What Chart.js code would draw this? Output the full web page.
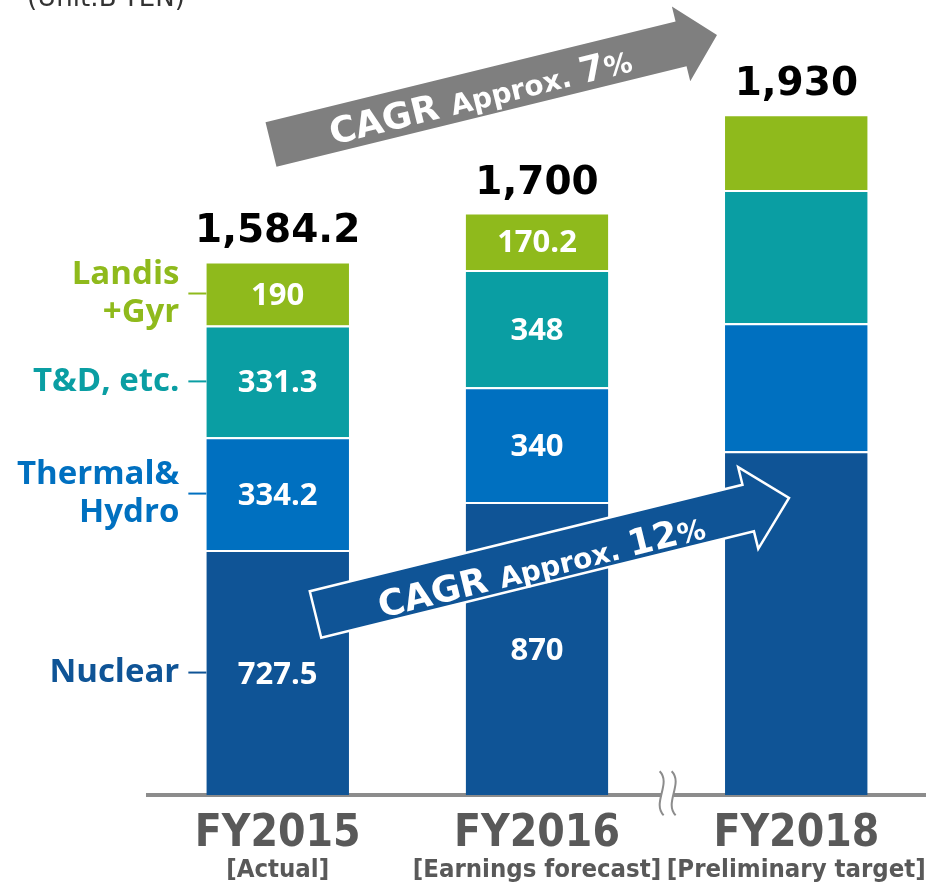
<!DOCTYPE html>
<html>
<head>
<meta charset="utf-8">
<script src="https://cdn.jsdelivr.net/npm/chart.js@4/dist/chart.umd.min.js"></script>
<style>
  html, body { margin: 0; padding: 0; background: #fff; }
</style>
</head>
<body>
<canvas id="grafico" width="926" height="884"></canvas>
<script>
// datos (B-YEN)
const categories = ['FY2015', 'FY2016', 'FY2018'];
const subLabels = ['[Actual]', '[Earnings forecast]', '[Preliminary target]'];
const nuclear = [727.5, 870, 1020];
const thermalHydro = [334.2, 340, 380];
const tdEtc = [331.3, 348, 395];
const landisGyr = [190, 170.2, 225];
const totals = [1584.2, 1700, 1930];
const showValues = [true, true, false];

const seriesNames = [['Nuclear'], ['Thermal&', 'Hydro'], ['T&D, etc.'], ['Landis', '+Gyr']];
const seriesColors = ['#0F5496', '#0070C0', '#0A9EA3', '#8FBA1C'];

function fmt(v) {
    return v.toLocaleString('en-US', { maximumFractionDigits: 1 });
}

// flechas CAGR (decoración, en pixeles)
function drawArrow(ctx, x0, y0, x1, y1, half, headHalf, headLen, fill, stroke) {
    const ang = Math.atan2(y1 - y0, x1 - x0);
    const len = Math.hypot(x1 - x0, y1 - y0);
    ctx.save();
    ctx.translate(x0, y0);
    ctx.rotate(ang);
    ctx.beginPath();
    ctx.moveTo(0, -half);
    ctx.lineTo(len - headLen, -half);
    ctx.lineTo(len - headLen, -headHalf);
    ctx.lineTo(len, 0);
    ctx.lineTo(len - headLen, headHalf);
    ctx.lineTo(len - headLen, half);
    ctx.lineTo(0, half);
    ctx.closePath();
    ctx.fillStyle = fill;
    ctx.fill();
    if (stroke) {
        ctx.strokeStyle = stroke;
        ctx.lineWidth = 2.5;
        ctx.stroke();
    }
    ctx.restore();
    return { ang, len };
}

function drawArrowText(ctx, x0, y0, ang, along, off, pieces) {
    ctx.save();
    ctx.translate(x0, y0);
    ctx.rotate(ang);
    let total = 0;
    pieces.forEach(p => {
        ctx.font = 'bold ' + p[1] + 'px "DejaVu Sans"';
        total += ctx.measureText(p[0]).width;
    });
    let cx = along - total / 2;
    ctx.fillStyle = '#fff';
    ctx.textAlign = 'left';
    ctx.textBaseline = 'alphabetic';
    pieces.forEach(p => {
        ctx.font = 'bold ' + p[1] + 'px "DejaVu Sans"';
        ctx.fillText(p[0], cx, off);
        cx += ctx.measureText(p[0]).width;
    });
    ctx.restore();
}

const extras = {
    id: 'extras',
    afterDatasetsDraw(chart) {
        const { ctx } = chart;
        const metas = chart.data.datasets.map((d, i) => chart.getDatasetMeta(i));

        // valores dentro de las barras
        ctx.save();
        ctx.fillStyle = '#fff';
        ctx.font = 'bold 31px "Open Sans"';
        ctx.textAlign = 'center';
        ctx.textBaseline = 'alphabetic';
        metas.forEach((meta, i) => {
            meta.data.forEach((bar, j) => {
                if (!showValues[j]) return;
                const mid = (bar.y + bar.base) / 2;
                ctx.fillText(fmt(chart.data.datasets[i].data[j]), bar.x, mid + 11);
            });
        });

        // totales
        ctx.fillStyle = '#000';
        ctx.font = 'bold 39px "DejaVu Sans"';
        const top = metas[metas.length - 1];
        top.data.forEach((bar, j) => {
            ctx.fillText(fmt(totals[j]), bar.x, bar.y - 19);
        });

        // etiquetas de series a la izquierda (segmentos de FY2015)
        ctx.font = 'bold 33px "Open Sans"';
        ctx.textAlign = 'right';
        ctx.textBaseline = 'middle';
        metas.forEach((meta, i) => {
            const bar = meta.data[0];
            const mid = (bar.y + bar.base) / 2;
            const left = bar.x - bar.width / 2;
            ctx.strokeStyle = seriesColors[i];
            ctx.lineWidth = 2;
            ctx.beginPath();
            ctx.moveTo(left - 18, mid);
            ctx.lineTo(left, mid);
            ctx.stroke();
            ctx.fillStyle = seriesColors[i];
            const lines = seriesNames[i];
            lines.forEach((t, k) => {
                ctx.fillText(t, left - 27, mid + (k - (lines.length - 1) / 2) * 38);
            });
        });
        ctx.restore();

        // flecha gris
        const g = drawArrow(ctx, 271, 144.5, 717, 35, 23, 38.5, 37, '#7F7F7F', null);
        drawArrowText(ctx, 271, 144.5, g.ang, 215, 15, [['CAGR ', 36], ['Approx. ', 28], ['7', 36], ['%', 28]]);

        // flecha azul
        const b = drawArrow(ctx, 315.5, 614.5, 789, 498, 24, 42, 42, '#0F5496', '#fff');
        drawArrowText(ctx, 315.5, 614.5, b.ang, 231, 19, [['CAGR ', 36], ['Approx. ', 28], ['12', 36], ['%', 28]]);
    },
    afterDraw(chart) {
        const { ctx, chartArea, scales: { x } } = chart;
        ctx.save();
        // unidad
        ctx.fillStyle = '#333';
        ctx.font = '26px "DejaVu Sans"';
        ctx.textAlign = 'left';
        ctx.textBaseline = 'alphabetic';
        ctx.fillText('(Unit:B-YEN)', 27, 6);

        // sub etiquetas
        ctx.fillStyle = '#595959';
        ctx.font = 'bold 25.5px "DejaVu Sans Condensed"';
        ctx.textAlign = 'center';
        ctx.textBaseline = 'middle';
        subLabels.forEach((t, i) => {
            ctx.fillText(t, x.getPixelForValue(i), chartArea.bottom + 75);
        });

        // marca de corte entre FY2016 y FY2018
        const bx = (x.getPixelForValue(1) + x.getPixelForValue(2)) / 2 + 1;
        const by = chartArea.bottom;
        ctx.fillStyle = '#fff';
        ctx.fillRect(bx - 6, by - 4, 12, 8);
        ctx.strokeStyle = '#8C8C8C';
        ctx.lineWidth = 2;
        [-6, 6].forEach(dx => {
            ctx.beginPath();
            ctx.moveTo(bx + dx - 2, by - 24);
            ctx.bezierCurveTo(bx + dx + 10, by - 12, bx + dx - 10, by + 8, bx + dx + 2, by + 20);
            ctx.stroke();
        });
        ctx.restore();
    }
};

const dataVentas = {
    labels: categories,
    datasets: [
        { label: 'Nuclear', data: nuclear, backgroundColor: seriesColors[0] },
        { label: 'Thermal & Hydro', data: thermalHydro, backgroundColor: seriesColors[1] },
        { label: 'T&D, etc.', data: tdEtc, backgroundColor: seriesColors[2] },
        { label: 'Landis+Gyr', data: landisGyr, backgroundColor: seriesColors[3] }
    ].map(d => Object.assign(d, {
        borderColor: '#fff',
        borderWidth: { top: 2, left: 0, right: 0, bottom: 0 },
        borderSkipped: false,
        categoryPercentage: 1,
        barPercentage: 0.55
    }))
};

const configVentas = {
    type: 'bar',
    data: dataVentas,
    options: {
        responsive: false,
        animation: false,
        layout: { padding: { left: 148, right: 0, top: 13, bottom: 10 } },
        plugins: {
            legend: { display: false },
            tooltip: { enabled: false }
        },
        scales: {
            x: {
                stacked: true,
                z: 1,
                grid: { display: false, drawTicks: false },
                border: { display: true, color: '#8C8C8C', width: 4 },
                ticks: {
                    color: '#595959',
                    padding: 13,
                    font: { family: '"DejaVu Sans Condensed"', size: 44, weight: 'bold' }
                }
            },
            y: {
                stacked: true,
                display: false,
                min: 0,
                max: 2320
            }
        }
    },
    plugins: [extras]
};

new Chart(document.getElementById('grafico'), configVentas);
</script>
</body>
</html>
